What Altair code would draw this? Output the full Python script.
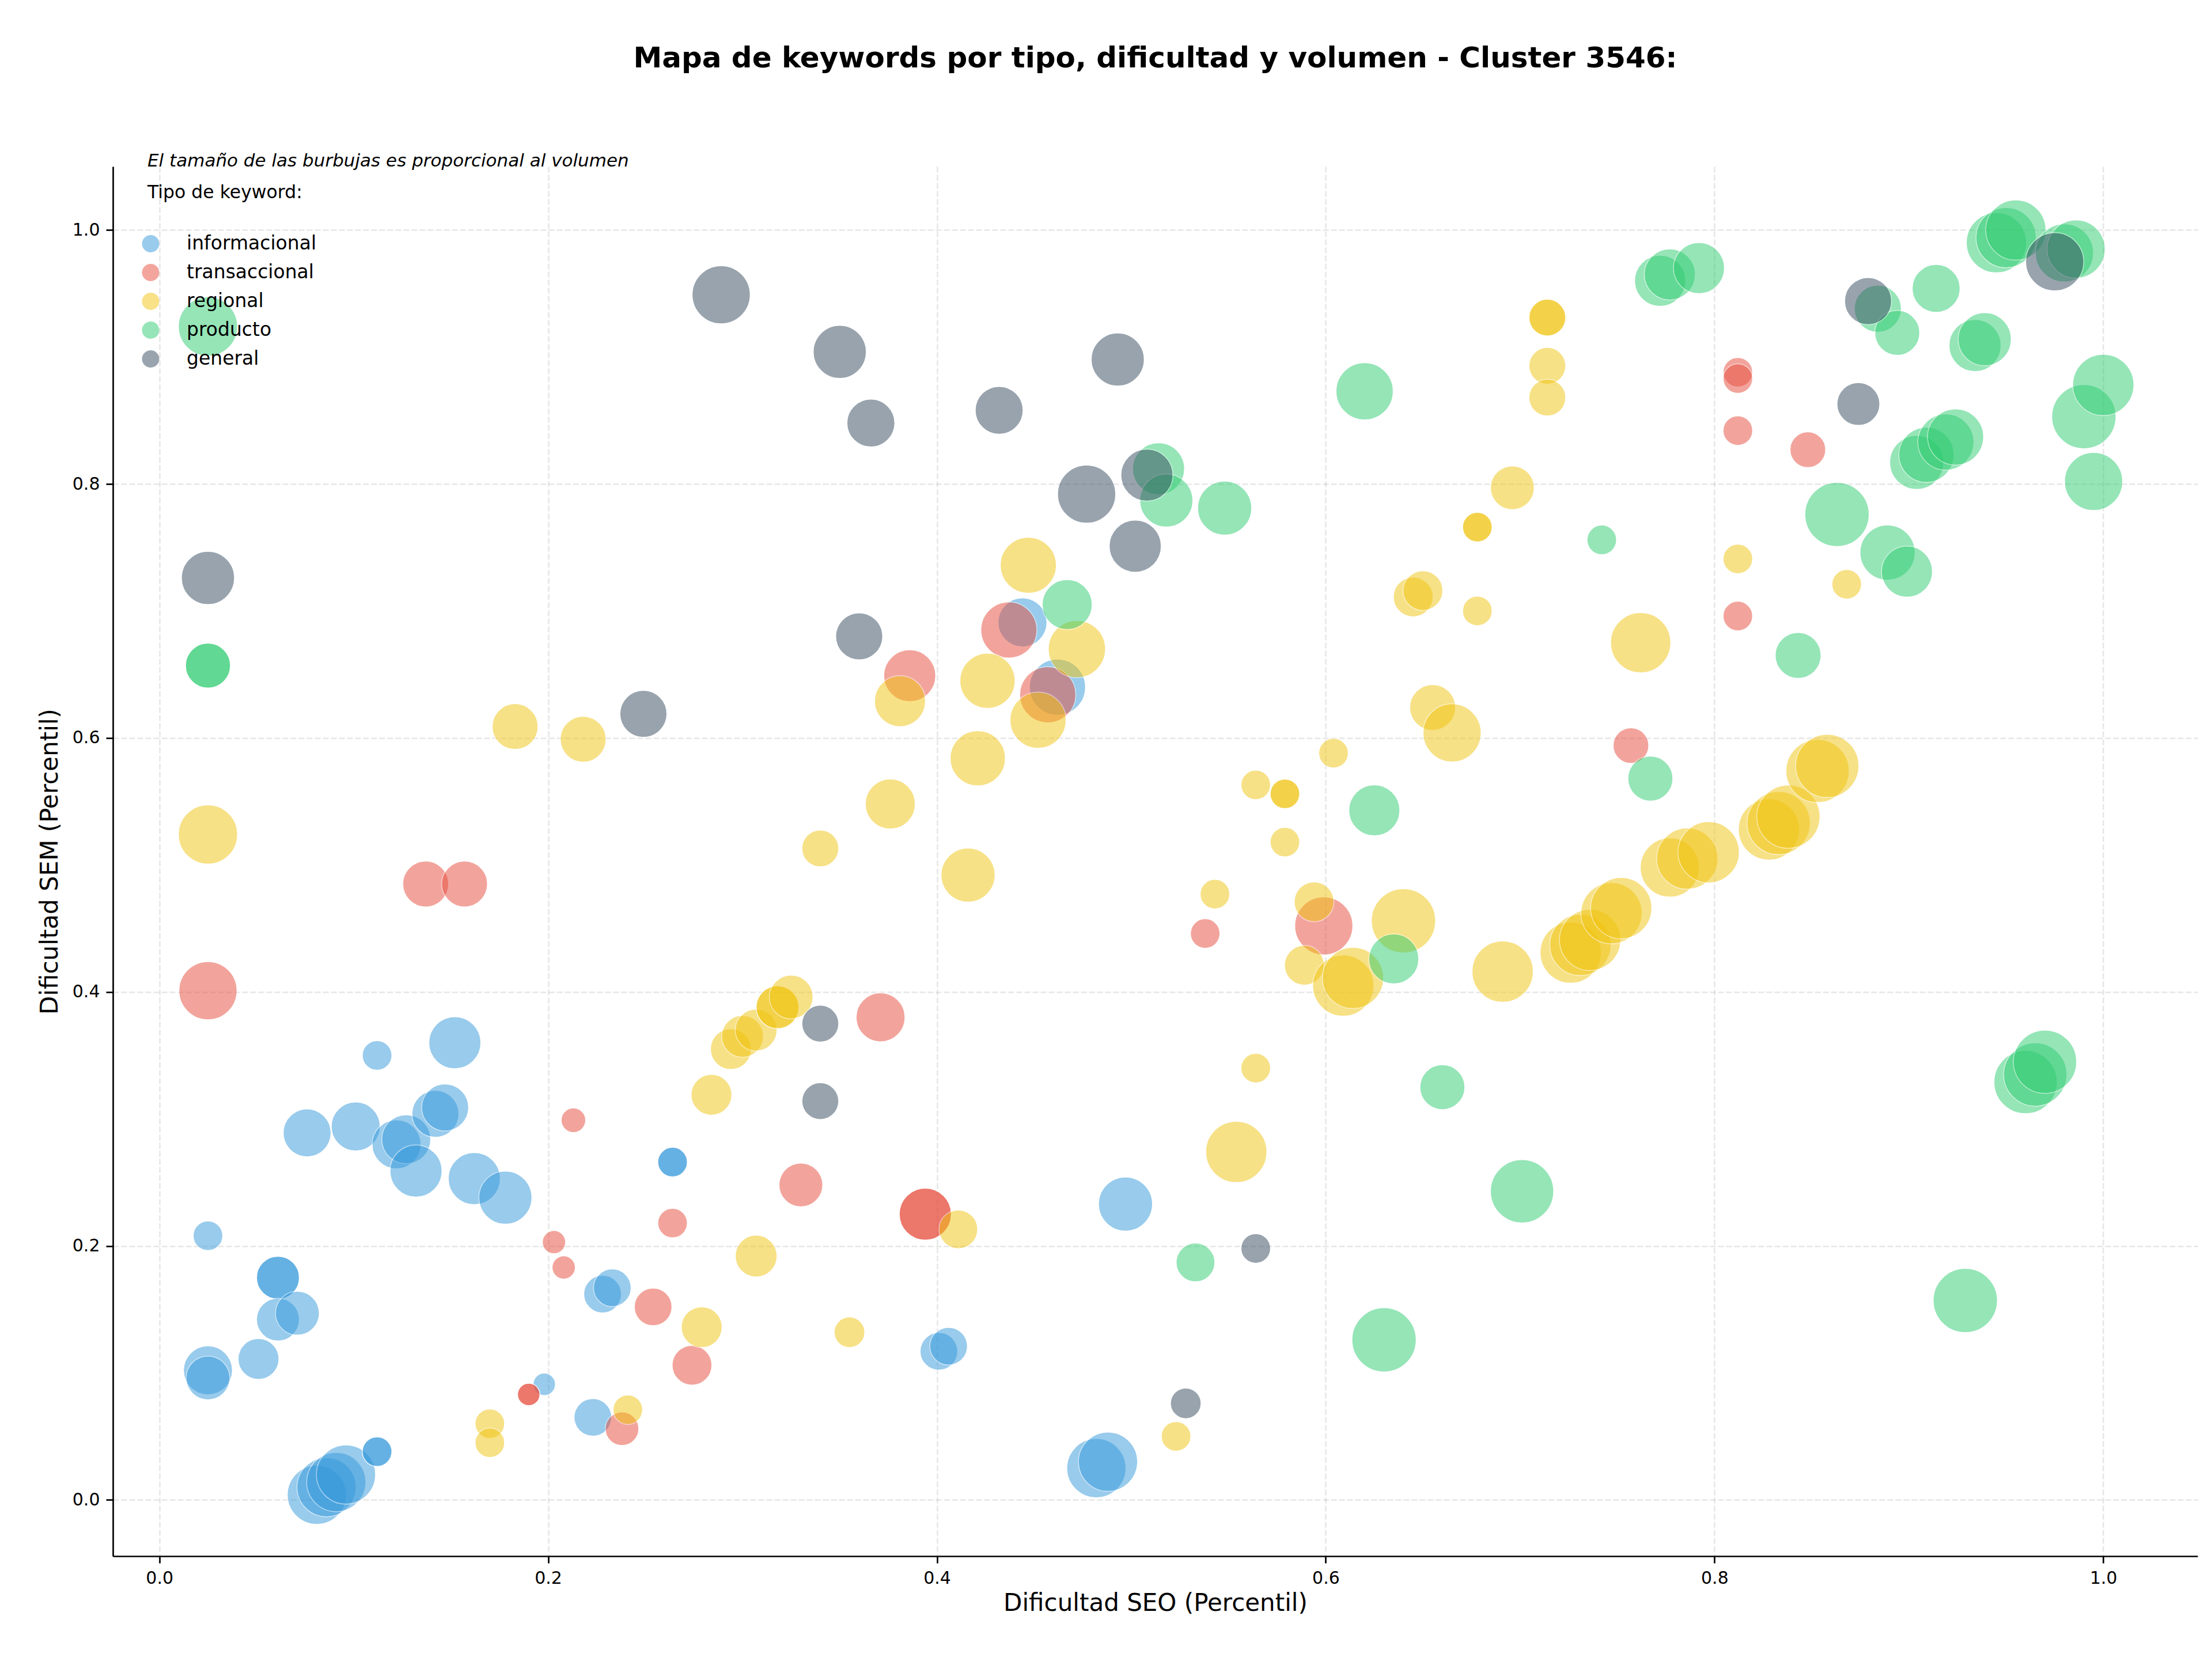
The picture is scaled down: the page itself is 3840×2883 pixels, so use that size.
import altair as alt
import pandas as pd

# Keyword types, their colours and draw order
categorias = ["informacional", "transaccional", "regional", "producto", "general"]
colores = ["#3498db", "#e74c3c", "#f1c40f", "#2ecc71", "#34495e"]

titulo = "Mapa de keywords por tipo, dificultad y volumen - Cluster 3546:"
nota_tamano = "El tamaño de las burbujas es proporcional al volumen"
ticks = [0.0, 0.2, 0.4, 0.6, 0.8, 1.0]

# --- informacional ---
info_seo = [0.025, 0.025, 0.025, 0.051, 0.061, 0.061, 0.061, 0.071, 0.076, 0.101,
            0.112, 0.122, 0.127, 0.132, 0.142, 0.147, 0.152, 0.162, 0.178,
            0.081, 0.086, 0.091, 0.096, 0.112, 0.112,
            0.198, 0.223, 0.228, 0.233, 0.264, 0.264, 0.401, 0.406,
            0.482, 0.488, 0.497, 0.444, 0.462]
info_sem = [0.208, 0.102, 0.096, 0.111, 0.175, 0.175, 0.142, 0.147, 0.289, 0.294,
            0.350, 0.280, 0.284, 0.259, 0.304, 0.309, 0.360, 0.253, 0.238,
            0.004, 0.010, 0.014, 0.020, 0.038, 0.038,
            0.091, 0.065, 0.162, 0.167, 0.266, 0.266, 0.117, 0.121,
            0.025, 0.030, 0.233, 0.691, 0.640]
info_vol = [420, 1150, 920, 800, 880, 880, 880, 920, 1100, 1150,
            420, 1150, 1150, 1300, 1060, 1060, 1300, 1300, 1350,
            1680, 1680, 1680, 1680, 420, 420,
            240, 680, 680, 680, 420, 420, 680, 680,
            1680, 1680, 1400, 1150, 1510]

# --- transaccional ---
trans_seo = [0.137, 0.157, 0.025, 0.213, 0.203, 0.208, 0.190, 0.190, 0.238, 0.254,
             0.274, 0.264, 0.330, 0.371, 0.394, 0.394, 0.386, 0.437, 0.457, 0.538,
             0.599, 0.757, 0.812, 0.812, 0.812, 0.812, 0.848]
trans_sem = [0.485, 0.485, 0.401, 0.299, 0.203, 0.183, 0.083, 0.083, 0.056, 0.152,
             0.106, 0.218, 0.248, 0.380, 0.225, 0.225, 0.649, 0.685, 0.634, 0.446,
             0.452, 0.594, 0.696, 0.842, 0.888, 0.883, 0.827]
trans_vol = [1010, 1010, 1620, 290, 260, 260, 240, 240, 540, 680,
             760, 420, 920, 1150, 1300, 1300, 1300, 1510, 1510, 420,
             1620, 610, 420, 420, 420, 420, 610]

# --- regional ---
reg_seo = [0.025, 0.183, 0.218, 0.170, 0.170, 0.241, 0.279, 0.284, 0.294, 0.300,
           0.307, 0.318, 0.318, 0.325, 0.307, 0.355, 0.340, 0.376, 0.381, 0.416,
           0.411, 0.421, 0.426, 0.447, 0.452, 0.472, 0.523, 0.543, 0.554, 0.564,
           0.564, 0.579, 0.579, 0.579, 0.589, 0.594, 0.604, 0.609, 0.614, 0.640,
           0.645, 0.650, 0.655, 0.665, 0.678, 0.678, 0.678, 0.691, 0.696, 0.714,
           0.714, 0.714, 0.714, 0.726, 0.731, 0.736, 0.747, 0.752, 0.762, 0.777,
           0.786, 0.797, 0.812, 0.828, 0.833, 0.838, 0.853, 0.858, 0.868]
reg_sem = [0.524, 0.609, 0.599, 0.060, 0.045, 0.071, 0.136, 0.319, 0.355, 0.365,
           0.370, 0.388, 0.388, 0.396, 0.192, 0.132, 0.513, 0.548, 0.629, 0.492,
           0.213, 0.584, 0.645, 0.736, 0.614, 0.670, 0.050, 0.477, 0.274, 0.340,
           0.563, 0.556, 0.556, 0.518, 0.421, 0.471, 0.588, 0.405, 0.411, 0.456,
           0.711, 0.716, 0.624, 0.604, 0.766, 0.766, 0.700, 0.416, 0.797, 0.931,
           0.931, 0.893, 0.868, 0.431, 0.437, 0.441, 0.462, 0.466, 0.675, 0.498,
           0.505, 0.510, 0.741, 0.528, 0.533, 0.538, 0.574, 0.578, 0.721]
reg_vol = [1680, 1010, 1010, 420, 420, 420, 800, 800, 800, 840,
           840, 880, 880, 920, 840, 450, 650, 1200, 1250, 1400,
           720, 1460, 1460, 1510, 1510, 1570, 420, 420, 1800, 420,
           420, 420, 420, 420, 760, 760, 420, 1800, 1800, 1980,
           760, 760, 1010, 1620, 420, 420, 420, 1800, 920, 650,
           650, 650, 650, 1800, 1800, 1800, 1800, 1800, 1740, 1680,
           1800, 1800, 420, 1800, 1920, 1920, 1920, 1920, 420]

# --- producto ---
prod_seo = [0.025, 0.025, 0.025, 0.467, 0.514, 0.518, 0.533, 0.548, 0.620, 0.625,
            0.630, 0.635, 0.660, 0.701, 0.742, 0.767, 0.772, 0.777, 0.792, 0.843,
            0.863, 0.884, 0.889, 0.894, 0.899, 0.904, 0.909, 0.914, 0.919, 0.924,
            0.929, 0.934, 0.939, 0.945, 0.950, 0.955, 0.960, 0.965, 0.970, 0.980,
            0.986, 0.990, 0.995, 1.000]
prod_sem = [0.924, 0.657, 0.657, 0.705, 0.812, 0.787, 0.187, 0.781, 0.873, 0.543,
            0.126, 0.426, 0.325, 0.243, 0.756, 0.568, 0.960, 0.965, 0.970, 0.665,
            0.776, 0.938, 0.746, 0.919, 0.731, 0.817, 0.823, 0.954, 0.833, 0.837,
            0.157, 0.909, 0.914, 0.990, 0.994, 1.000, 0.329, 0.335, 0.345, 0.982,
            0.985, 0.853, 0.802, 0.878]
prod_vol = [1680, 970, 970, 1200, 1300, 1350, 720, 1400, 1570, 1250,
            1980, 1200, 970, 1920, 420, 970, 1250, 1250, 1250, 1010,
            1980, 1060, 1460, 970, 1250, 1400, 1460, 1100, 1510, 1510,
            1980, 1300, 1350, 1740, 1740, 1740, 1920, 1920, 1920, 1620,
            1620, 1980, 1620, 1800]

# --- general ---
gen_seo = [0.025, 0.249, 0.289, 0.340, 0.340, 0.350, 0.360, 0.366, 0.432, 0.477,
           0.493, 0.502, 0.508, 0.528, 0.564, 0.874, 0.879, 0.975]
gen_sem = [0.726, 0.619, 0.949, 0.375, 0.314, 0.904, 0.680, 0.848, 0.858, 0.792,
           0.898, 0.751, 0.807, 0.076, 0.198, 0.863, 0.944, 0.975]
gen_vol = [1350, 1060, 1620, 650, 650, 1350, 1060, 1100, 1100, 1620,
           1350, 1300, 1300, 450, 420, 880, 1060, 1620]

series = [
    ("informacional", info_seo, info_sem, info_vol),
    ("transaccional", trans_seo, trans_sem, trans_vol),
    ("regional", reg_seo, reg_sem, reg_vol),
    ("producto", prod_seo, prod_sem, prod_vol),
    ("general", gen_seo, gen_sem, gen_vol),
]

filas = []
for tipo, seo, sem, vol in series:
    for a, b, c in zip(seo, sem, vol):
        filas.append({"tipo": tipo, "seo": a, "sem": b, "volumen": c, "orden": len(filas)})
df = pd.DataFrame(filas)

FUENTE = "DejaVu Sans"

burbujas = alt.Chart(df).mark_circle(
    opacity=0.5, stroke="white", strokeWidth=1.5
).encode(
    x=alt.X(
        "seo:Q",
        scale=alt.Scale(domain=[-0.0239, 1.0485], nice=False, zero=False),
        axis=alt.Axis(title="Dificultad SEO (Percentil)", values=ticks, format=".1f",
                      labelPadding=11, titlePadding=8),
    ),
    y=alt.Y(
        "sem:Q",
        scale=alt.Scale(domain=[-0.0443, 1.05], nice=False, zero=False),
        axis=alt.Axis(title="Dificultad SEM (Percentil)", values=ticks, format=".1f",
                      labelPadding=11, titlePadding=17),
    ),
    size=alt.Size("volumen:Q", scale=alt.Scale(domain=[0, 2000], range=[0, 12566]),
                  legend=None),
    color=alt.Color(
        "tipo:N",
        scale=alt.Scale(domain=categorias, range=colores),
        legend=alt.Legend(
            title="Tipo de keyword:", orient="none", legendX=60, legendY=30,
            symbolType="circle", symbolSize=900, symbolOpacity=0.5,
            symbolStrokeWidth=0, symbolOffset=-11, labelOffset=46, rowPadding=16,
            titlePadding=56, titleFontSize=31.5, titleFontWeight="normal",
            titleFont=FUENTE, titleColor="black", titleLimit=1000,
            labelFontSize=33, labelFont=FUENTE, labelColor="black",
            labelLimit=1000, padding=0,
        ),
    ),
    order=alt.Order("orden:Q"),
)

nota = alt.Chart(pd.DataFrame({"nota": [nota_tamano]})).mark_text(
    align="left", baseline="alphabetic", fontStyle="italic", fontSize=31,
    font=FUENTE, color="black",
).encode(x=alt.value(60), y=alt.value(0), text="nota:N")

chart = alt.layer(burbujas, nota).properties(
    width=3619,
    height=2412,
    title=alt.TitleParams(titulo, fontSize=50, font=FUENTE, fontWeight="bold",
                          anchor="middle", frame="group", offset=137, color="black"),
    autosize=alt.AutoSizeParams(type="none"),
    padding={"left": 196, "top": 289, "right": 25, "bottom": 182},
    background="white",
).configure_view(
    stroke="transparent"
).configure_axis(
    labelFont=FUENTE, labelFontSize=30, labelColor="black",
    titleFont=FUENTE, titleFontSize=42, titleFontWeight="normal", titleColor="black",
    domainColor="black", domainWidth=2.7, tickColor="black", tickWidth=2.7, tickSize=12,
    grid=True, gridColor="#b0b0b0", gridOpacity=0.3, gridWidth=2.7, gridDash=[10, 4],
    zindex=1,
)

chart.save("out.html", embed_options={"renderer": "svg", "actions": False})
